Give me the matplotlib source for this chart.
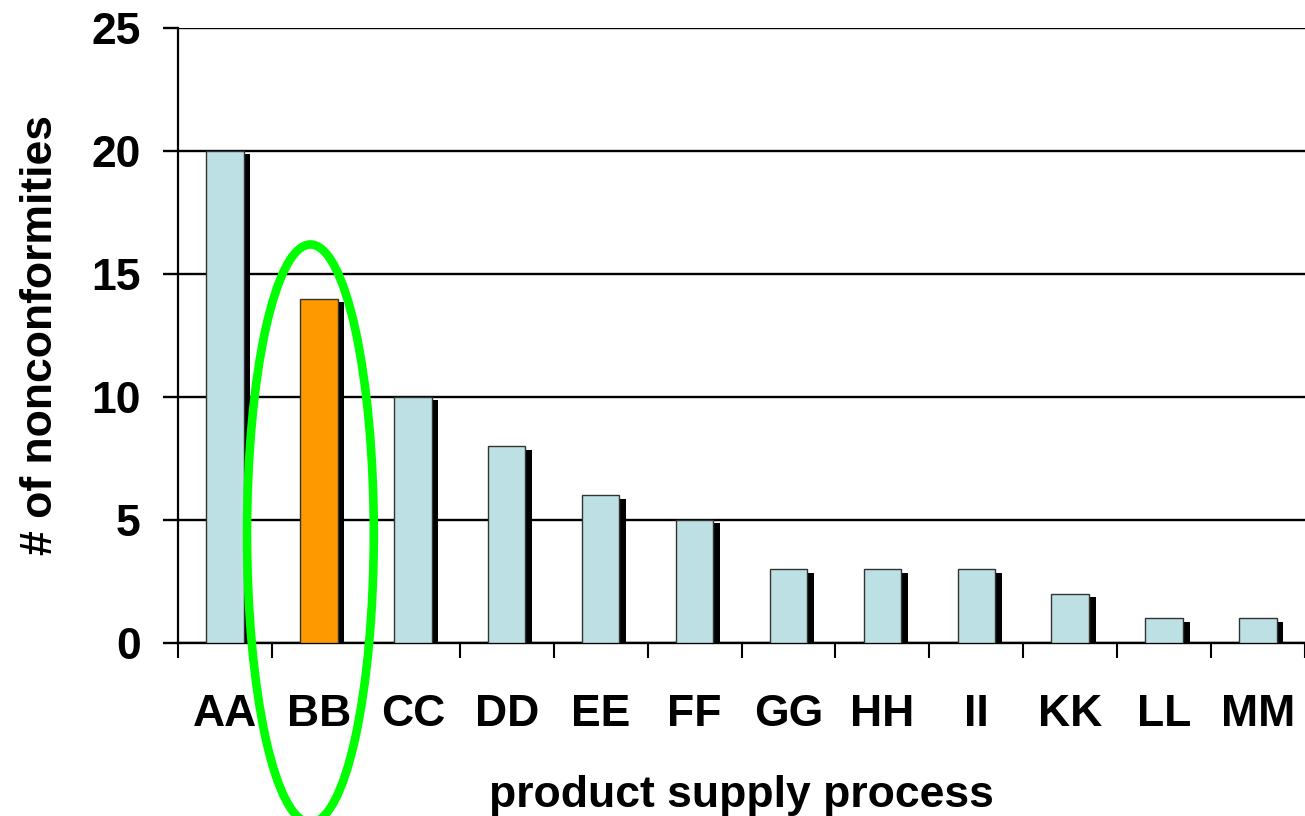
import matplotlib.pyplot as plt
import matplotlib.patheffects as pe
from matplotlib.patches import Ellipse
import numpy as np

processes = ['AA', 'BB', 'CC', 'DD', 'EE', 'FF', 'GG', 'HH', 'II', 'KK', 'LL', 'MM']
nonconformities = [20, 14, 10, 8, 6, 5, 3, 3, 3, 2, 1, 1]
highlight = 'BB'

plt.rcParams['font.family'] = ['Liberation Sans', 'DejaVu Sans']
plt.rcParams['font.weight'] = 'bold'

fig = plt.figure(figsize=(13.05, 8.16), dpi=100)
ax = fig.add_axes([0.1364, 0.2120, 0.8636, 0.7537])

x = np.arange(len(processes))
colors = ['#ff9900' if p == highlight else '#bce0e3' for p in processes]

# bars with a hard black drop shadow down-right
shadow = [pe.SimplePatchShadow(offset=(4.8, -2.4), shadow_rgbFace='black', alpha=1.0),
          pe.Normal()]
bars = ax.bar(x, nonconformities, width=0.4, color=colors, edgecolor='#333333',
              linewidth=1.0, zorder=3)
for b in bars:
    b.set_path_effects(shadow)

ax.set_xlim(-0.5, len(processes) - 0.5)
ax.set_ylim(0, 25)
ax.set_yticks([0, 5, 10, 15, 20, 25])
ax.yaxis.grid(True, color='black', linewidth=1.7, zorder=0)
ax.set_axisbelow(True)

# category labels centred, tick marks between categories
ax.set_xticks(x)
ax.set_xticklabels(processes)
ax.set_xticks(np.arange(-0.5, len(processes)), minor=True)
ax.tick_params(axis='x', which='major', length=0, pad=37, labelsize=32)
ax.tick_params(axis='x', which='minor', length=10.5, width=1.5, direction='out')
ax.tick_params(axis='y', length=10.8, width=1.7, pad=16, labelsize=32)

for side in ['top', 'right']:
    ax.spines[side].set_visible(False)
ax.spines['left'].set_linewidth(1.6)
ax.spines['bottom'].set_linewidth(1.7)

ax.set_ylabel('# of nonconformities', fontsize=32, fontweight='bold')
ax.yaxis.set_label_coords(-0.104, 0.5)
ax.set_xlabel('product supply process', fontsize=32, fontweight='bold')
ax.xaxis.set_label_coords(0.5, -0.215)

# green ring around the highlighted process
ring = Ellipse((processes.index(highlight) - 0.09, 4.45), width=1.35, height=23.5,
               fill=False, edgecolor='#00ff00', linewidth=6.2, clip_on=False, zorder=5)
ax.add_patch(ring)

fig.savefig('out.png', dpi=100)
